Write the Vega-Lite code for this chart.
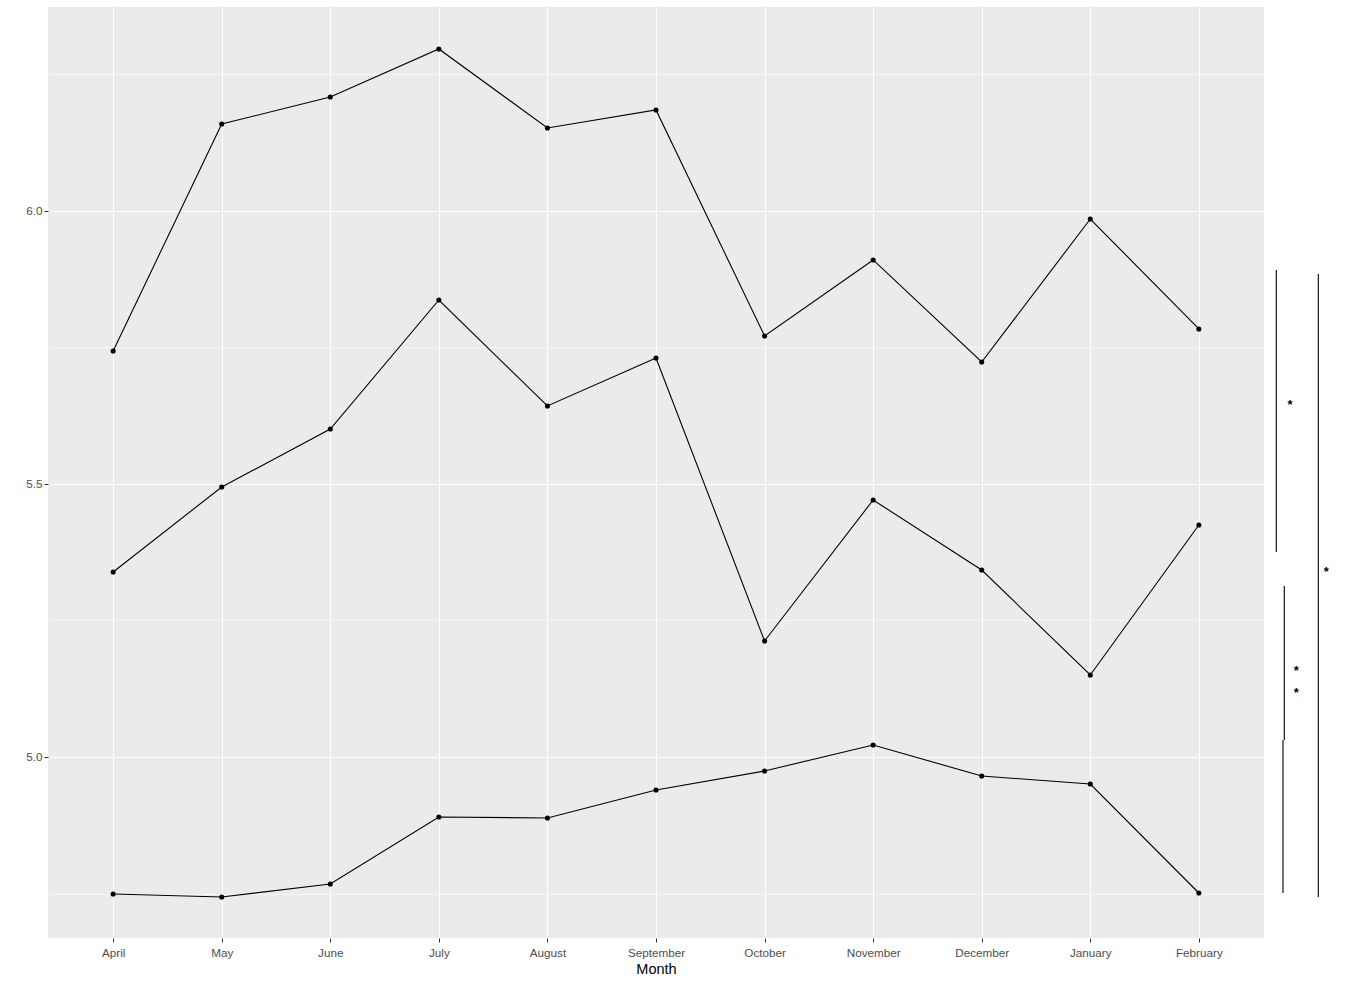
{
  "$schema": "https://vega.github.io/schema/vega-lite/v6.json",
  "padding": {"left": 5, "top": 7, "right": 0, "bottom": 0},
  "background": "white",
  "spacing": 0,
  "config": {"font": "Liberation Sans", "view": {"stroke": null}},
  "datasets": {
    "means": [
      {"month": "April", "series": "A", "value": 5.7436},
      {"month": "May", "series": "A", "value": 6.1593},
      {"month": "June", "series": "A", "value": 6.2088},
      {"month": "July", "series": "A", "value": 6.2967},
      {"month": "August", "series": "A", "value": 6.1520},
      {"month": "September", "series": "A", "value": 6.1850},
      {"month": "October", "series": "A", "value": 5.7711},
      {"month": "November", "series": "A", "value": 5.9103},
      {"month": "December", "series": "A", "value": 5.7234},
      {"month": "January", "series": "A", "value": 5.9853},
      {"month": "February", "series": "A", "value": 5.7839},
      {"month": "April", "series": "B", "value": 5.3388},
      {"month": "May", "series": "B", "value": 5.4945},
      {"month": "June", "series": "B", "value": 5.6007},
      {"month": "July", "series": "B", "value": 5.8370},
      {"month": "August", "series": "B", "value": 5.6429},
      {"month": "September", "series": "B", "value": 5.7308},
      {"month": "October", "series": "B", "value": 5.2125},
      {"month": "November", "series": "B", "value": 5.4707},
      {"month": "December", "series": "B", "value": 5.3425},
      {"month": "January", "series": "B", "value": 5.1502},
      {"month": "February", "series": "B", "value": 5.4249},
      {"month": "April", "series": "C", "value": 4.7491},
      {"month": "May", "series": "C", "value": 4.7436},
      {"month": "June", "series": "C", "value": 4.7674},
      {"month": "July", "series": "C", "value": 4.8901},
      {"month": "August", "series": "C", "value": 4.8883},
      {"month": "September", "series": "C", "value": 4.9396},
      {"month": "October", "series": "C", "value": 4.9744},
      {"month": "November", "series": "C", "value": 5.0220},
      {"month": "December", "series": "C", "value": 4.9652},
      {"month": "January", "series": "C", "value": 4.9505},
      {"month": "February", "series": "C", "value": 4.7509}
    ],
    "brackets": [
      {"x": 12.3, "y1": 5.8919, "y2": 5.3755},
      {"x": 20.3, "y1": 5.3132, "y2": 5.0311},
      {"x": 19.0, "y1": 5.0311, "y2": 4.7509},
      {"x": 54.3, "y1": 5.8846, "y2": 4.7436}
    ],
    "stars": [
      {"x": 26.0, "y": 5.6484, "label": "*"},
      {"x": 32.3, "y": 5.1612, "label": "*"},
      {"x": 32.3, "y": 5.1209, "label": "*"},
      {"x": 62.3, "y": 5.3425, "label": "*"}
    ]
  },
  "hconcat": [
    {
      "width": 1216,
      "height": 931,
      "view": {"fill": "#EBEBEB", "stroke": null},
      "data": {"name": "means"},
      "encoding": {
        "x": {
          "field": "month",
          "type": "ordinal",
          "sort": ["April", "May", "June", "July", "August", "September", "October", "November", "December", "January", "February"],
          "scale": {"type": "point", "padding": 0.6},
          "axis": {
            "title": "Month",
            "titleFontSize": 14.5,
            "titleFontWeight": "normal",
            "titleColor": "black",
            "titlePadding": 4,
            "labelAngle": 0,
            "labelFontSize": 11.7,
            "labelColor": "#4D4D4D",
            "labelPadding": 5,
            "tickColor": "#333333",
            "tickSize": 4,
            "domain": false,
            "grid": true,
            "gridColor": "white",
            "gridWidth": 1.1
          }
        },
        "y": {
          "field": "value",
          "type": "quantitative",
          "scale": {"domain": [4.6685, 6.3736], "nice": false, "zero": false},
          "axis": {
            "title": null,
            "values": [4.75, 5, 5.25, 5.5, 5.75, 6, 6.25],
            "labelExpr": "datum.value % 0.5 == 0 ? format(datum.value, '.1f') : ''",
            "labelFontSize": 11.7,
            "labelColor": "#4D4D4D",
            "labelPadding": 2,
            "tickColor": "#333333",
            "tickSize": 4,
            "tickOpacity": {"condition": {"test": "datum.value % 0.5 != 0", "value": 0}, "value": 1},
            "domain": false,
            "grid": true,
            "gridColor": "white",
            "gridWidth": {"condition": {"test": "datum.value % 0.5 != 0", "value": 0.55}, "value": 1.1},
            "minExtent": 43,
            "maxExtent": 43
          }
        },
        "detail": {"field": "series"}
      },
      "layer": [
        {"mark": {"type": "line", "color": "black", "strokeWidth": 1.1}},
        {"mark": {"type": "point", "filled": true, "color": "black", "size": 26, "opacity": 1}}
      ]
    },
    {
      "width": 83,
      "height": 931,
      "view": {"stroke": null},
      "layer": [
        {
          "data": {"name": "brackets"},
          "mark": {"type": "rule", "color": "black", "strokeWidth": 1.1},
          "encoding": {
            "x": {"field": "x", "type": "quantitative", "scale": {"domain": [0, 83], "nice": false}, "axis": null},
            "y": {"field": "y1", "type": "quantitative", "scale": {"domain": [4.6685, 6.3736], "nice": false, "zero": false}, "axis": null},
            "y2": {"field": "y2"}
          }
        },
        {
          "data": {"name": "stars"},
          "mark": {"type": "text", "fontSize": 13, "fontWeight": "bold", "baseline": "alphabetic", "dy": 6.5, "color": "black"},
          "encoding": {
            "x": {"field": "x", "type": "quantitative", "scale": {"domain": [0, 83], "nice": false}, "axis": null},
            "y": {"field": "y", "type": "quantitative", "scale": {"domain": [4.6685, 6.3736], "nice": false, "zero": false}, "axis": null},
            "text": {"field": "label"}
          }
        }
      ]
    }
  ]
}
